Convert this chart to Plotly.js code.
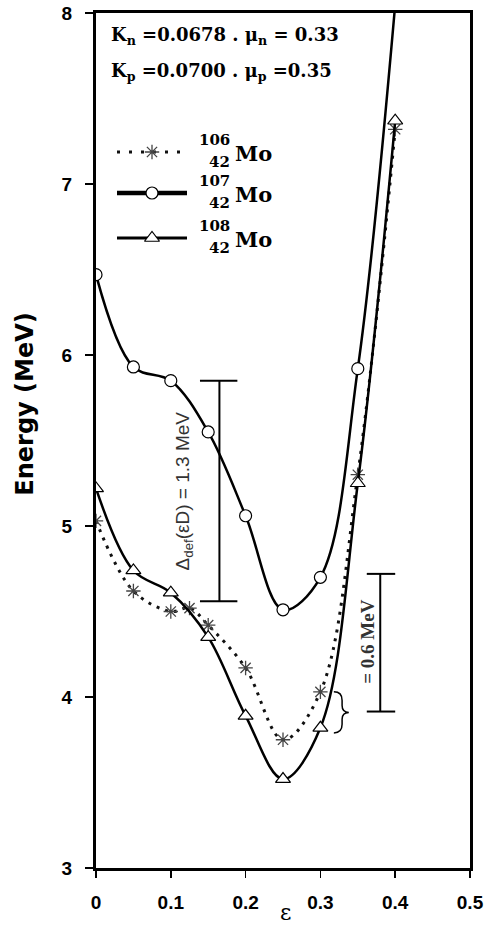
<!DOCTYPE html>
<html>
<head>
<meta charset="utf-8">
<script src="https://cdn.plot.ly/plotly-3.0.1.min.js"></script>
<style>html,body{margin:0;padding:0;background:#fff}#chart{width:484px;height:928px}</style>
</head>
<body>
<div id="chart"></div>
<script>
// ---- data ----
const eps = [0, 0.05, 0.1, 0.15, 0.2, 0.25, 0.3, 0.35, 0.4];
const eps106 = [0, 0.05, 0.1, 0.125, 0.15, 0.2, 0.25, 0.3, 0.35, 0.4];
const mo106 = [5.03, 4.62, 4.50, 4.52, 4.42, 4.17, 3.75, 4.03, 5.30, 7.32];
const mo107 = [6.47, 5.93, 5.85, 5.55, 5.06, 4.51, 4.70, 5.92, 8.05];
const mo108 = [5.22, 4.74, 4.61, 4.35, 3.89, 3.52, 3.82, 5.25, 7.37];
const xTicks = [0, 0.1, 0.2, 0.3, 0.4, 0.5];
const xTickText = ['0', '0.1', '0.2', '0.3', '0.4', '0.5'];
const yTicks = [3, 4, 5, 6, 7, 8];
const legendMass = ['106', '107', '108'];
const legendZ = '42';
const gap1 = {label: 'Δ<sub>def</sub>(εD) = 1.3 MeV', lo: 4.56, hi: 5.85};
const gap2 = {label: '= 0.6 MeV', lo: 3.915, hi: 4.72};

// ---- styles ----
const sty106 = {line: {color: '#111', width: 3, dash: '3px,6px', shape: 'spline'},
  marker: {symbol: 'asterisk-open', size: 12, color: '#444', line: {color: '#444', width: 1.3}}};
const sty107 = {line: {color: '#000', width: 2.5, shape: 'spline'},
  marker: {symbol: 'circle', size: 12, color: '#fff', line: {color: '#000', width: 1.2}}};
const sty108 = {line: {color: '#000', width: 2.5, shape: 'spline'},
  marker: {symbol: 'triangle-up', size: 13, color: '#fff', line: {color: '#000', width: 1.2}}};

const traces = [
  Object.assign({x: eps106, y: mo106, mode: 'lines+markers', type: 'scatter'}, sty106),
  Object.assign({x: eps, y: mo107, mode: 'lines+markers', type: 'scatter'}, sty107),
  Object.assign({x: eps, y: mo108, mode: 'lines+markers', type: 'scatter'}, sty108)
];

// legend samples on a hidden pixel-scaled overlay axis
const legRows = [152, 193, 238];
const legStyles = [sty106, sty107, sty108];
const legWidths = [3, 4.5, 3];
legRows.forEach((py, i) => {
  const st = JSON.parse(JSON.stringify(legStyles[i]));
  st.line.shape = 'linear';
  st.line.width = legWidths[i];
  if (i === 0) st.line.dash = '3px,9px';
  traces.push(Object.assign({x: [117, 152, 187], y: [py, py, py], xaxis: 'x2', yaxis: 'y2',
    mode: 'lines', type: 'scatter', hoverinfo: 'skip'}, {line: st.line}));
  traces.push({x: [152], y: [py], xaxis: 'x2', yaxis: 'y2', mode: 'markers', type: 'scatter',
    marker: st.marker, hoverinfo: 'skip'});
});

const serif = 'DejaVu Serif';
const annotations = [];
// legend labels
legRows.forEach((py, i) => {
  annotations.push({xref: 'x2', yref: 'y2', x: 232, y: py - 12, text: legendMass[i], showarrow: false,
    xanchor: 'right', yanchor: 'middle', font: {family: serif, size: 15, weight: 700, color: '#000'}});
  annotations.push({xref: 'x2', yref: 'y2', x: 232, y: py + 10, text: legendZ, showarrow: false,
    xanchor: 'right', yanchor: 'middle', font: {family: serif, size: 15, weight: 700, color: '#000'}});
  annotations.push({xref: 'x2', yref: 'y2', x: 233, y: py + 1, text: 'Mo', showarrow: false,
    xanchor: 'left', yanchor: 'middle', font: {family: serif, size: 21, weight: 700, color: '#000'}});
});
// parameter text
annotations.push({xref: 'x2', yref: 'y2', x: 109, y: 36, showarrow: false, xanchor: 'left', yanchor: 'middle',
  text: 'K<sub>n</sub> =0.0678 . μ<sub>n</sub> = 0.33', font: {family: serif, size: 18, weight: 700, color: '#000'}});
annotations.push({xref: 'x2', yref: 'y2', x: 109, y: 72, showarrow: false, xanchor: 'left', yanchor: 'middle',
  text: 'K<sub>p</sub> =0.0700 . μ<sub>p</sub> =0.35', font: {family: serif, size: 18, weight: 700, color: '#000'}});
// gap labels
annotations.push({xref: 'x', yref: 'y', x: 0.117, y: (gap1.lo + gap1.hi) / 2, text: gap1.label, textangle: -90,
  showarrow: false, font: {family: 'Liberation Sans', size: 19, color: '#333'}});
annotations.push({xref: 'x', yref: 'y', x: 0.363, y: 4.32, text: gap2.label, textangle: -90,
  showarrow: false, font: {family: 'Liberation Serif', size: 19, weight: 700, color: '#333'}});
// axis titles (paper coords, outside the plot area)
annotations.push({xref: 'paper', yref: 'paper', x: -0.19, y: 0.543, text: 'Energy (MeV)', textangle: -90,
  showarrow: false, xanchor: 'center', yanchor: 'middle',
  font: {family: 'DejaVu Sans', size: 24, weight: 700, color: '#000'}});
annotations.push({xref: 'paper', yref: 'paper', x: 0.506, y: -0.0515, text: 'ε', showarrow: false,
  xanchor: 'center', yanchor: 'middle', font: {family: 'DejaVu Serif', size: 22, color: '#000'}});

const bar = (xc, x0, x1, lo, hi) => [
  {type: 'line', xref: 'x', yref: 'y', x0: xc, x1: xc, y0: lo, y1: hi, line: {color: '#000', width: 2}},
  {type: 'line', xref: 'x', yref: 'y', x0: x0, x1: x1, y0: lo, y1: lo, line: {color: '#000', width: 2}},
  {type: 'line', xref: 'x', yref: 'y', x0: x0, x1: x1, y0: hi, y1: hi, line: {color: '#000', width: 2}}
];
const shapes = [].concat(
  bar(0.165, 0.139, 0.189, gap1.lo, gap1.hi),
  bar(0.380, 0.362, 0.400, gap2.lo, gap2.hi),
  [{type: 'path', xref: 'x', yref: 'y', line: {color: '#000', width: 1.5},
    path: 'M0.318,4.03 Q0.329,4.03 0.329,3.98 L0.329,3.95 Q0.329,3.91 0.338,3.91 Q0.329,3.91 0.329,3.87 L0.329,3.84 Q0.329,3.79 0.318,3.79'}]
);

const tickFont = {family: 'Liberation Sans', size: 19, weight: 700, color: '#000'};
const layout = {
  width: 484, height: 928,
  margin: {l: 96, r: 14, t: 13, b: 60, pad: 0},
  paper_bgcolor: '#fff', plot_bgcolor: '#fff',
  showlegend: false,
  xaxis: {range: [0, 0.5], tickvals: xTicks, ticktext: xTickText, ticks: 'outside', ticklen: 7, tickwidth: 1.5,
    tickcolor: '#000', showgrid: false, zeroline: false, showline: true, linecolor: '#000', linewidth: 3,
    mirror: true, tickfont: tickFont, ticklabelstandoff: 8, fixedrange: true},
  yaxis: {range: [3, 8], tickvals: yTicks, ticks: 'outside', ticklen: 8, tickwidth: 1.5, tickcolor: '#000',
    showgrid: false, zeroline: false, showline: true, linecolor: '#000', linewidth: 3, mirror: true,
    tickfont: tickFont, ticklabelstandoff: 9, fixedrange: true},
  xaxis2: {overlaying: 'x', range: [96, 470], visible: false, fixedrange: true},
  yaxis2: {overlaying: 'y', range: [868, 13], visible: false, fixedrange: true},
  annotations: annotations,
  shapes: shapes
};
Plotly.newPlot('chart', traces, layout, {staticPlot: true, displayModeBar: false});
</script>
</body>
</html>
